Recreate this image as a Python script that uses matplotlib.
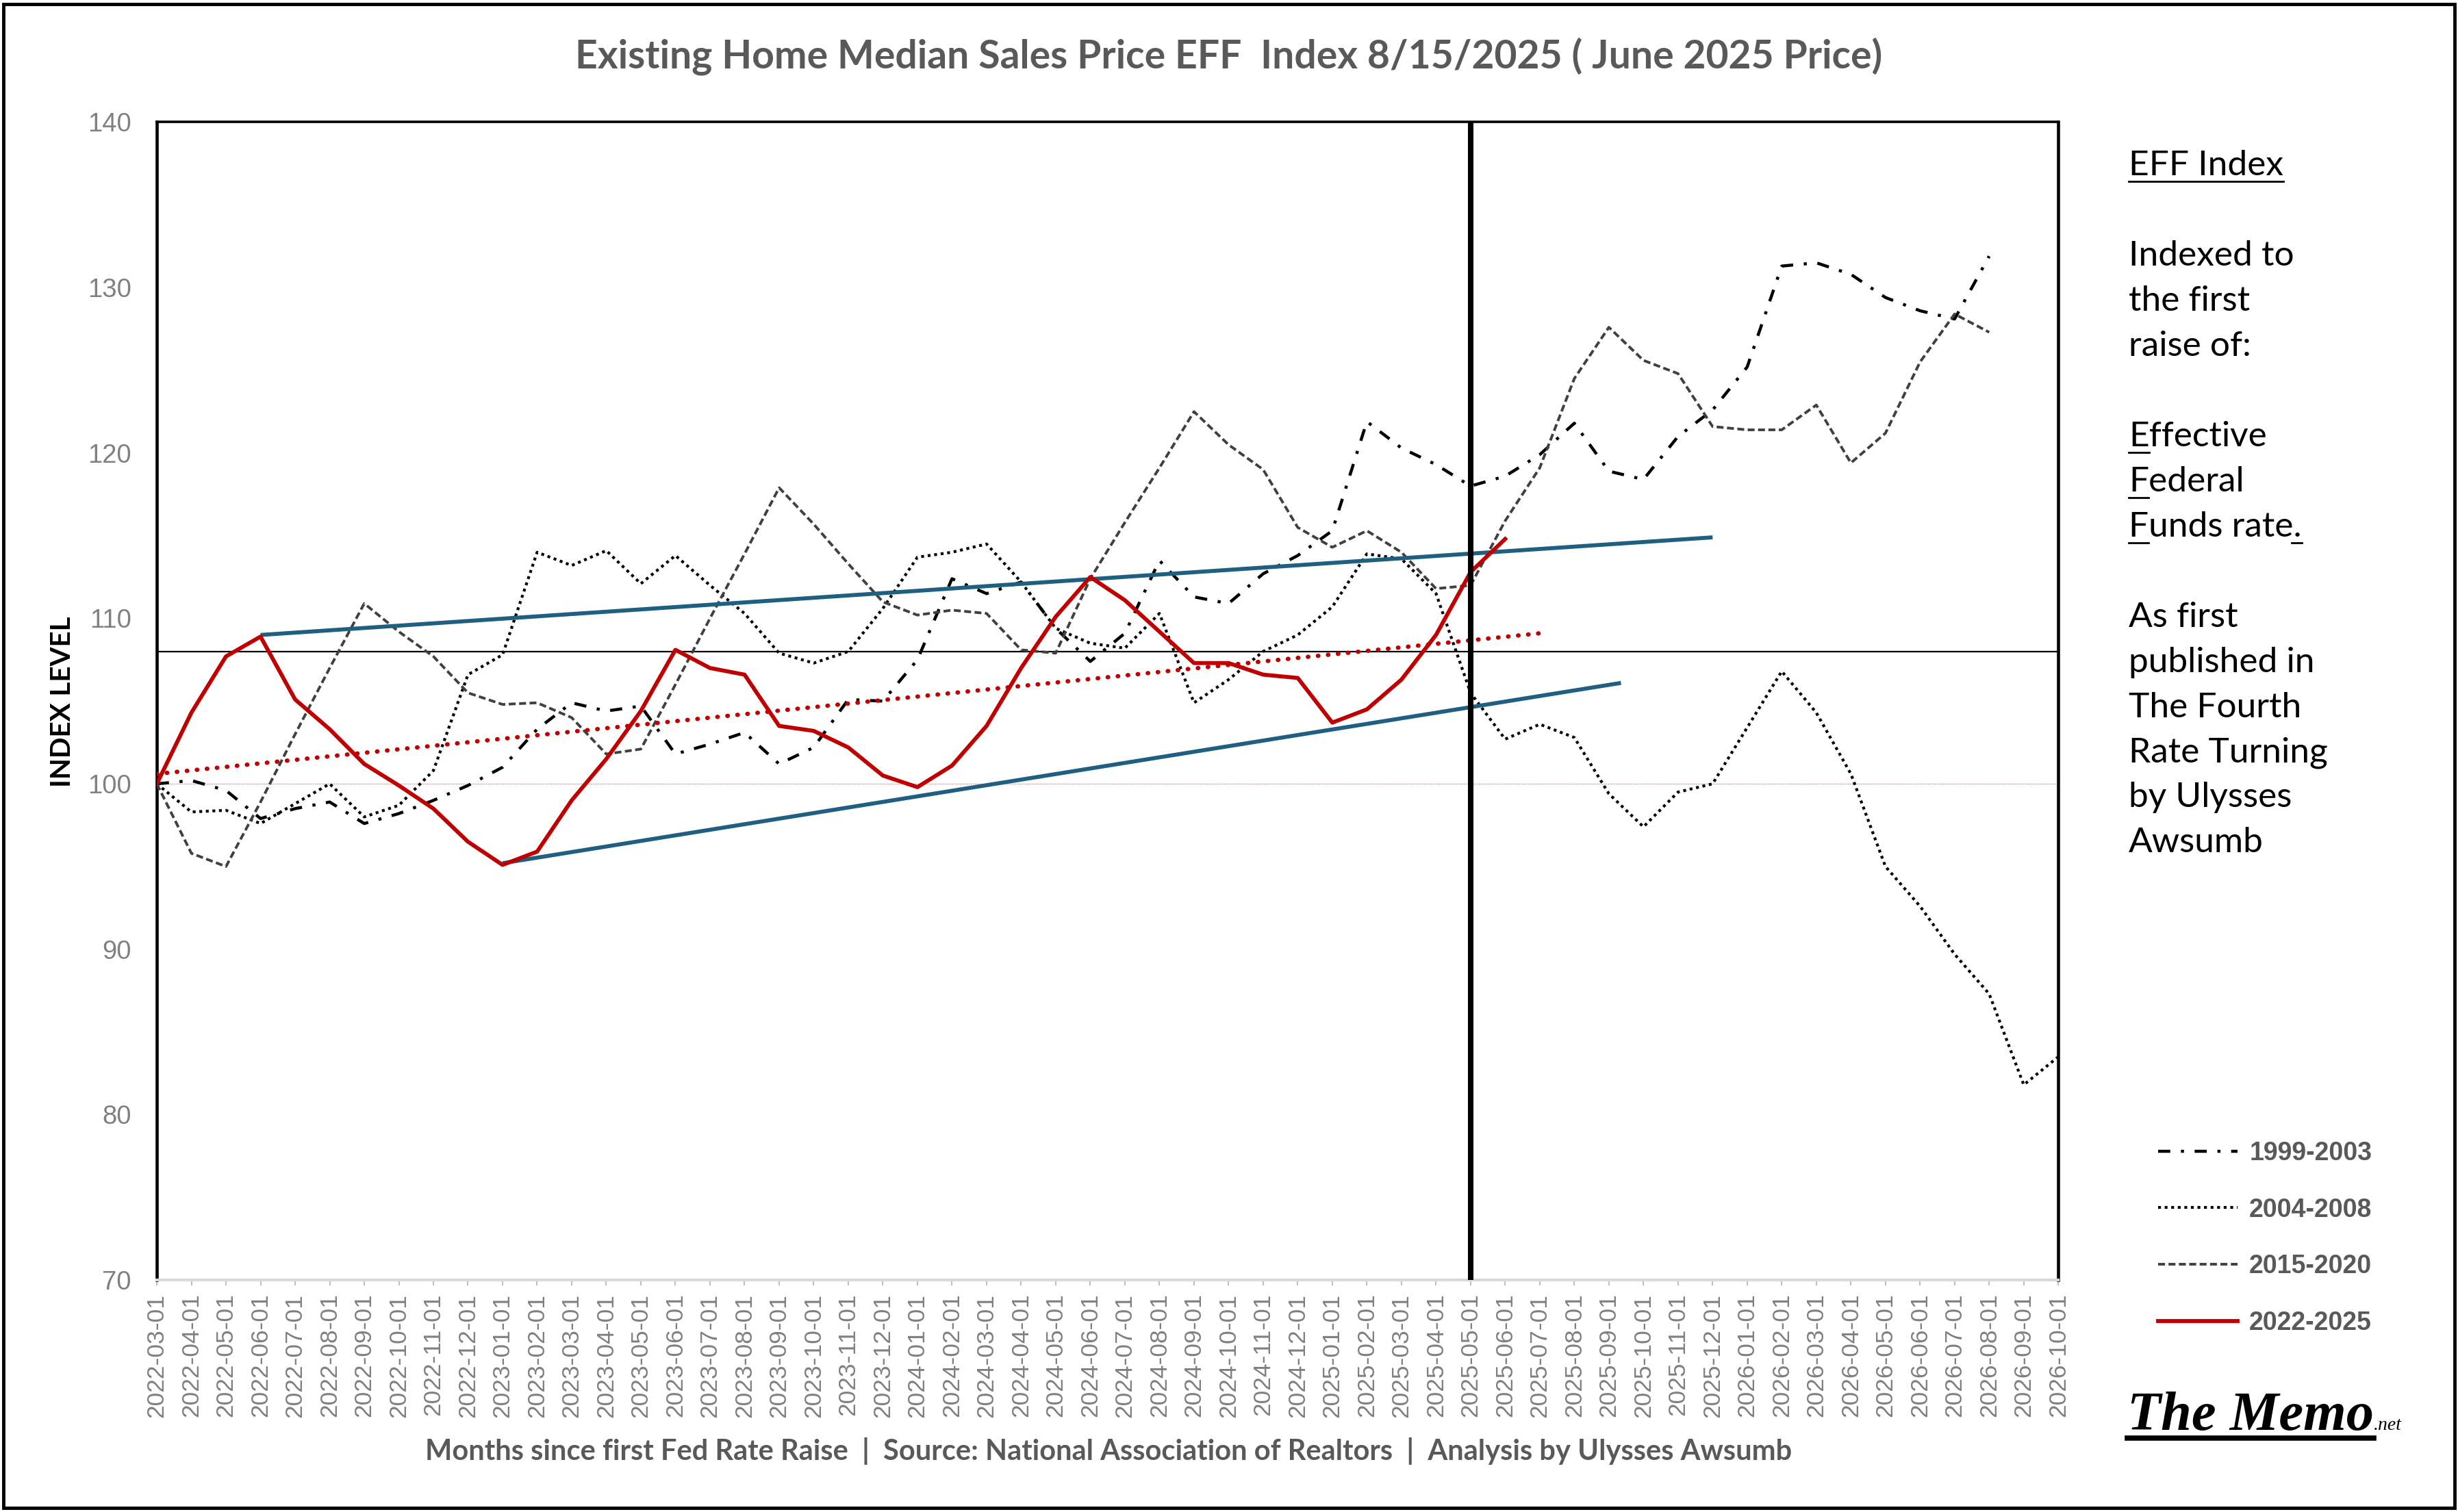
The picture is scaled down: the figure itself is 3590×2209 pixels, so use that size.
import numpy as np
import pandas as pd
import matplotlib
matplotlib.use("Agg")
import matplotlib.pyplot as plt
from matplotlib.lines import Line2D
from matplotlib.patches import Rectangle

# month axis: first Fed raise = 2022-03, 56 months shown
MONTHS = pd.date_range("2022-03-01", periods=56, freq="MS").strftime("%Y-%m-%d").tolist()

# index levels (100 = month of first raise)
CYCLE_1999 = [100, 100.2, 99.6, 97.9, 98.5, 98.9, 97.6, 98.2, 99.0, 99.9,
              101.0, 103.3, 104.9, 104.4, 104.7, 101.8, 102.4, 103.1, 101.2, 102.2,
              105.1, 105.0, 107.5, 112.4, 111.5, 112.2, 109.4, 107.4, 109.1, 113.5,
              111.3, 110.9, 112.7, 113.8, 115.3, 121.9, 120.3, 119.3, 118.0, 118.6,
              119.9, 121.8, 118.9, 118.4, 121.0, 122.6, 125.2, 131.3, 131.5, 130.8,
              129.4, 128.6, 128.1, 131.9]
CYCLE_2004 = [100, 98.3, 98.4, 97.6, 98.8, 100.0, 98.0, 98.7, 100.8, 106.6,
              107.8, 114.0, 113.2, 114.1, 112.1, 113.8, 112.0, 110.3, 107.9, 107.3,
              108.0, 110.6, 113.7, 114.0, 114.5, 112.2, 109.4, 108.5, 108.2, 110.3,
              104.9, 106.3, 108.0, 109.0, 110.7, 113.9, 113.6, 111.5, 105.5, 102.7,
              103.6, 102.8, 99.4, 97.4, 99.5, 100.0, 103.4, 106.8, 104.3, 100.6,
              95.0, 92.6, 89.7, 87.3, 81.8, 83.5]
CYCLE_2015 = [100, 95.8, 95.0, 98.9, 103.0, 107.0, 110.9, 109.2, 107.7, 105.5,
              104.8, 104.9, 104.0, 101.8, 102.1, 106.0, 110.0, 113.9, 117.9, 115.7,
              113.3, 111.0, 110.2, 110.5, 110.3, 108.1, 107.9, 112.4, 115.8, 119.1,
              122.5, 120.5, 119.0, 115.5, 114.3, 115.3, 114.0, 111.8, 112.0, 115.9,
              119.1, 124.5, 127.6, 125.6, 124.8, 121.6, 121.4, 121.4, 122.9, 119.4,
              121.2, 125.5, 128.4, 127.3]
CYCLE_2022 = [100, 104.3, 107.7, 108.9, 105.1, 103.3, 101.2, 99.9, 98.5, 96.5,
              95.1, 95.9, 99.0, 101.5, 104.4, 108.1, 107.0, 106.6, 103.5, 103.2,
              102.2, 100.5, 99.8, 101.1, 103.5, 107.0, 110.1, 112.5, 111.1, 109.2,
              107.3, 107.3, 106.6, 106.4, 103.7, 104.5, 106.3, 109.0, 112.8, 114.8]

# hand-drawn channel and trend (month index, level)
UPPER_X, UPPER_Y = [3, 45], [109.0, 114.9]
LOWER_X, LOWER_Y = [10, 42.35], [95.2, 106.1]
TREND_X, TREND_Y = [0, 40], [100.6, 109.1]
BASE_LEVEL = 100
REF_LEVEL = 108
NOW_MONTH = "2025-05-01"

SIDE_LINES = ["EFF Index", "", "Indexed to", "the first", "raise of:", "",
              "Effective", "Federal", "Funds rate.", "",
              "As first", "published in", "The Fourth", "Rate Turning",
              "by Ulysses", "Awsumb"]

HEAD = ["Lato", "DejaVu Sans"]
SANS = ["Liberation Sans", "DejaVu Sans"]
SIDE = ["Lato", "DejaVu Sans"]
GREY = "#595959"
TICK_GREY = "#808080"
RED = "#C00000"
BLUE = "#1F5F82"

fig = plt.figure(figsize=(35.9, 22.09), dpi=100)
ax = fig.add_axes([0.0638, 0.1534, 0.7736, 0.7658])

x_all = np.arange(len(MONTHS))

ax.axhline(BASE_LEVEL, color="#F08080", lw=1.0, ls=(0, (1, 1)), zorder=1)
ax.axhline(REF_LEVEL, color="black", lw=1.6, zorder=1)

l1, = ax.plot(x_all[:len(CYCLE_1999)], CYCLE_1999, color="black", lw=3.2,
              dashes=(4, 3.5, 1, 3.5), label="1999-2003", zorder=3)
l2, = ax.plot(x_all[:len(CYCLE_2004)], CYCLE_2004, color="black", lw=3.0,
              dashes=(1, 1.3), label="2004-2008", zorder=3)
l3, = ax.plot(x_all[:len(CYCLE_2015)], CYCLE_2015, color="#404040", lw=2.8,
              dashes=(2.6, 1.3), label="2015-2020", zorder=3)

ax.plot(UPPER_X, UPPER_Y, color=BLUE, lw=4.2, solid_capstyle="butt", zorder=4)
ax.plot(LOWER_X, LOWER_Y, color=BLUE, lw=4.2, solid_capstyle="butt", zorder=4)
ax.plot(TREND_X, TREND_Y, color=RED, lw=4.6, ls=(0, (0.1, 2.2)),
        dash_capstyle="round", zorder=4)

l4, = ax.plot(x_all[:len(CYCLE_2022)], CYCLE_2022, color=RED, lw=4.2,
              label="2022-2025", zorder=5)

ax.axvline(MONTHS.index(NOW_MONTH), color="black", lw=5.8, zorder=6)

ax.set_xlim(0, len(MONTHS) - 1)
ax.set_ylim(70, 140)
ax.set_yticks(np.arange(70, 141, 10))
ax.set_xticks(x_all)
ax.set_xticklabels(MONTHS, rotation=90, fontsize=25.5, color=TICK_GREY, family=SANS)
ax.tick_params(axis="y", length=0, pad=27, labelsize=27.5, labelcolor=TICK_GREY)
ax.tick_params(axis="x", length=6, width=1.5, color="#BFBFBF", pad=8)
for lab in ax.get_yticklabels():
    lab.set_family(SANS)

for side in ["left", "right"]:
    ax.spines[side].set_linewidth(3.3)
    ax.spines[side].set_color("black")
ax.spines["top"].set_linewidth(2.6)
ax.spines["bottom"].set_linewidth(3.0)
ax.spines["bottom"].set_color("#D9D9D9")

fig.text(0.0255, 0.536, "INDEX LEVEL", rotation=90, ha="center", va="center",
         fontsize=29, weight="bold", family=HEAD, color="black")

fig.text(0.5, 0.9627, "Existing Home Median Sales Price EFF  Index 8/15/2025 ( June 2025 Price)",
         ha="center", va="center", fontsize=41, weight="bold", family=HEAD, color=GREY)

fig.text(0.451, 0.0404,
         "Months since first Fed Rate Raise  |  Source: National Association of Realtors  |  Analysis by Ulysses Awsumb",
         ha="center", va="center", fontsize=30, weight="bold", family=HEAD, color=GREY)

leg = fig.legend(handles=[l1, l2, l3, l4], loc="center left",
                 bbox_to_anchor=(0.878, 0.1811), frameon=False,
                 prop={"family": SANS, "weight": "bold", "size": 27},
                 handlelength=3.1, handletextpad=0.45, labelspacing=1.25,
                 borderpad=0, borderaxespad=0)
for t in leg.get_texts():
    t.set_color(GREY)

# side note, one line at a time so underlines can be placed
side_x = 0.866
side_top = 1 - 112 / 965
side_step = 28.8 / 965
side_size = 37
side_texts = []
for k, line in enumerate(SIDE_LINES):
    if not line:
        continue
    t = fig.text(side_x, side_top - k * side_step, line, ha="left", va="baseline",
                 fontsize=side_size, family=SIDE, color="black")
    side_texts.append((line, t))

logo = fig.text(0.8654, 0.0545, "The Memo", ha="left", va="baseline", fontsize=58,
                family=["Liberation Serif", "DejaVu Serif"], style="italic", weight="bold",
                color="black")

fig.patches.append(Rectangle((0.0015, 0.0025), 0.997, 0.995, transform=fig.transFigure,
                             fill=False, edgecolor="black", lw=3.5))

fig.canvas.draw()
renderer = fig.canvas.get_renderer()
inv = fig.transFigure.inverted()


def extent(text_obj):
    bb = text_obj.get_window_extent(renderer)
    (x0, y0), (x1, y1) = inv.transform([(bb.x0, bb.y0), (bb.x1, bb.y1)])
    return x0, x1


def underline(x0, x1, y, lw=2.0):
    fig.add_artist(Line2D([x0, x1], [y, y], transform=fig.transFigure, color="black", lw=lw))


uoff = 0.004
for line, t in side_texts:
    y = t.get_position()[1] - uoff
    if line == "EFF Index":
        x0, x1 = extent(t)
        underline(x0, x1, y)
    elif line in ("Effective", "Federal", "Funds rate."):
        tmp = fig.text(side_x, t.get_position()[1], line[0], ha="left", va="baseline",
                       fontsize=side_size, family=SIDE)
        x0, x1 = extent(tmp)
        tmp.remove()
        underline(x0, x1, y)
        if line.endswith("."):
            full0, full1 = extent(t)
            underline(full1 - 0.004, full1, y)

lx0, lx1 = extent(logo)
fig.text(lx1, 0.0545, ".net", ha="left", va="baseline", fontsize=20,
         family=["Liberation Serif", "DejaVu Serif"], style="italic", color="black")
underline(lx0, lx1, 0.0487, lw=5.5)

fig.savefig("out.png", dpi=100)
